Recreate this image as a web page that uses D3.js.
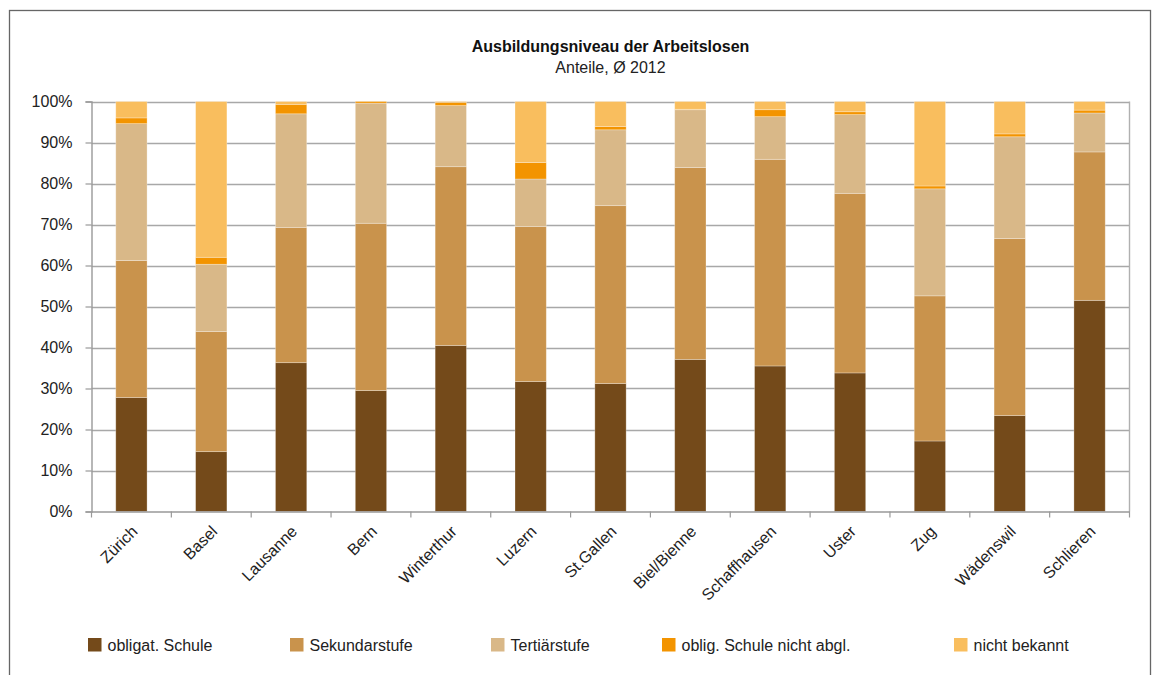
<!DOCTYPE html>
<html>
<head>
<meta charset="utf-8">
<script src="https://cdn.jsdelivr.net/npm/d3@7"></script>
<style>
  html, body { margin: 0; padding: 0; background: #fff; }
  svg { display: block; font-family: "Liberation Sans", Arial, sans-serif; }
</style>
</head>
<body>
<svg id="chart" width="1160" height="675"></svg>
<script>
const categories = ["Zürich","Basel","Lausanne","Bern","Winterthur","Luzern","St.Gallen","Biel/Bienne","Schaffhausen","Uster","Zug","Wädenswil","Schlieren"];
const seriesNames = ["obligat. Schule","Sekundarstufe","Tertiärstufe","oblig. Schule nicht abgl.","nicht bekannt"];
const obligat      = [27.8,14.6,36.3,29.5,40.5,31.7,31.2,37.1,35.5,33.8,17.2,23.4,51.5];
const sekundar     = [33.4,29.3,33.0,40.8,43.6,37.8,43.4,46.8,50.4,43.8,35.4,43.2,36.2];
const tertiaer     = [33.4,16.4,27.7,29.3,14.9,11.6,18.5,14.1,10.4,19.2,26.1,24.8,9.5];
const nichtAbgl    = [1.4,1.7,2.3,0.4,0.8,4.0,0.8,0.1,1.7,0.7,0.7,0.7,0.7];
const nichtBekannt = [4.0,38.0,0.7,0.0,0.2,14.9,6.1,1.9,2.0,2.5,20.6,7.9,2.1];
const yTicks = [0,10,20,30,40,50,60,70,80,90,100];
const colors = ["#744a1a","#c9934c","#d9b888","#f39400","#f9be5e"];
const titleText = "Ausbildungsniveau der Arbeitslosen";
const subtitleText = "Anteile, Ø 2012";

(function () {
const seriesValues = [obligat, sekundar, tertiaer, nichtAbgl, nichtBekannt];
const rows = categories.map((c, i) => {
  const r = { cat: c };
  seriesNames.forEach((s, k) => r[s] = seriesValues[k][i]);
  return r;
});

const svg = d3.select("#chart");
const pLeft = 91.5, pRight = 1129.5, pTop = 101.5, pBottom = 511.5;

// outer frame
svg.append("rect").attr("x", 9.5).attr("y", 10.5).attr("width", 1141).attr("height", 700)
  .attr("fill", "none").attr("stroke", "#666").attr("stroke-width", 1.3);

const x = d3.scaleBand().domain(categories).range([pLeft, pRight]).paddingInner(0.608).paddingOuter(0.304);
const y = d3.scaleLinear().domain([0, 100]).range([pBottom, pTop]);

// gridlines
svg.append("g").selectAll("line").data(yTicks.filter(t => t > 0)).join("line")
  .attr("x1", pLeft).attr("x2", pRight)
  .attr("y1", d => Math.round(y(d)) + 0.5).attr("y2", d => Math.round(y(d)) + 0.5)
  .attr("stroke", "#a8a8a8").attr("stroke-width", 1.4);
// right border of plot
svg.append("line").attr("x1", pRight).attr("x2", pRight).attr("y1", pTop).attr("y2", pBottom)
  .attr("stroke", "#b0b0b0").attr("stroke-width", 1.4);

// stacked bars
const stacked = d3.stack().keys(seriesNames)(rows);
svg.append("g").selectAll("g").data(stacked).join("g")
  .attr("fill", (d, i) => colors[i])
  .selectAll("rect").data(d => d).join("rect")
  .attr("x", d => x(d.data.cat))
  .attr("width", x.bandwidth())
  .attr("y", d => y(d[1]))
  .attr("height", d => Math.max(0, y(d[0]) - y(d[1])))
  .attr("stroke", "rgba(255,255,255,0.35)").attr("stroke-width", 0.8);

// y axis
const yAxis = d3.axisLeft(y).tickValues(yTicks).tickFormat(d => d + "%").tickSize(6).tickPadding(13);
const gy = svg.append("g").attr("transform", `translate(${pLeft},0)`).call(yAxis);
gy.select(".domain").attr("stroke", "#999").attr("stroke-width", 1.4);
gy.selectAll(".tick line").attr("stroke", "#999").attr("stroke-width", 1.2);
gy.selectAll(".tick text").attr("font-size", 16).attr("fill", "#222")
  .attr("font-family", "Liberation Sans, Arial, sans-serif");

// x axis
const xAxis = d3.axisBottom(x).tickSize(0).tickFormat("");
const gx = svg.append("g").attr("transform", `translate(0,${pBottom})`).call(xAxis);
gx.select(".domain").attr("stroke", "#999").attr("stroke-width", 1.4);
const step = x.step();
const x0 = x(categories[0]) - step * x.paddingOuter();
svg.append("g").selectAll("line").data(d3.range(categories.length + 1)).join("line")
  .attr("x1", i => x0 + i * step).attr("x2", i => x0 + i * step)
  .attr("y1", pBottom).attr("y2", pBottom + 6)
  .attr("stroke", "#999").attr("stroke-width", 1.2);
svg.append("g").selectAll("text").data(categories).join("text")
  .attr("transform", d => `translate(${x(d) + x.bandwidth() / 2 + 7},${pBottom + 21}) rotate(-45)`)
  .attr("text-anchor", "end")
  .attr("font-size", 16).attr("fill", "#222")
  .text(d => d);

// title
svg.append("text").attr("x", (pLeft + pRight) / 2).attr("y", 52)
  .attr("text-anchor", "middle").attr("font-size", 16).attr("font-weight", "bold").attr("fill", "#111")
  .text(titleText);
svg.append("text").attr("x", (pLeft + pRight) / 2).attr("y", 73)
  .attr("text-anchor", "middle").attr("font-size", 16).attr("fill", "#222")
  .text(subtitleText);

// legend
const legendX = [88, 290, 491, 662, 954];
const lg = svg.append("g").selectAll("g").data(seriesNames).join("g")
  .attr("transform", (d, i) => `translate(${legendX[i]},638)`);
lg.append("rect").attr("width", 13.5).attr("height", 13.5).attr("fill", (d, i) => colors[i]);
lg.append("text").attr("x", 19.5).attr("y", 12.5).attr("font-size", 16).attr("fill", "#222").text(d => d);
})();
</script>
</body>
</html>
